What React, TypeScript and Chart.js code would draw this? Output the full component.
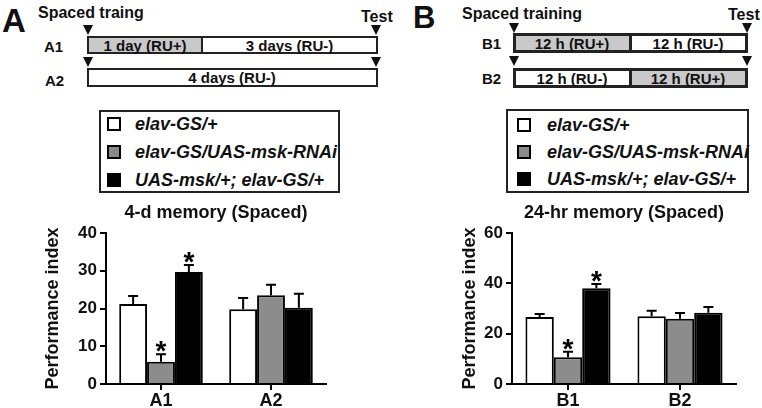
import React, { useEffect, useRef } from "react";
import { Chart, registerables } from "chart.js";
Chart.register(...registerables);

// ---- data ----
const categoriesA = ["A1", "A2"];
const categoriesB = ["B1", "B2"];
const seriesNames = ["elav-GS/+", "elav-GS/UAS-msk-RNAi", "UAS-msk/+; elav-GS/+"];
const seriesColors = ["#ffffff", "#8c8c8c", "#000000"];

const controlA = [21.2, 19.8];
const rnaiA = [5.9, 23.5];
const overA = [29.7, 20.2];
const controlAErr = [2.1, 3.0];
const rnaiAErr = [2.0, 2.8];
const overAErr = [1.8, 3.7];
const sigControlA = [false, false];
const sigRnaiA = [true, false];
const sigOverA = [true, false];

const controlB = [26.6, 26.9];
const rnaiB = [10.6, 25.9];
const overB = [38.0, 28.3];
const controlBErr = [1.2, 2.2];
const rnaiBErr = [2.2, 2.3];
const overBErr = [1.7, 2.3];
const sigControlB = [false, false];
const sigRnaiB = [true, false];
const sigOverB = [true, false];

const yTicksA = [0, 10, 20, 30, 40];
const yTicksB = [0, 20, 40, 60];

const FONT = "'Liberation Sans', Arial, Helvetica, sans-serif";

const errorBarPlugin = {
  id: "errbars",
  afterDatasetsDraw(chart: any) {
    const ctx = chart.ctx;
    const y = chart.scales.y;
    chart.data.datasets.forEach((ds: any, di: number) => {
      const meta = chart.getDatasetMeta(di);
      meta.data.forEach((bar: any, i: number) => {
        const v = ds.data[i];
        const top = y.getPixelForValue(v + ds.errors[i]);
        const base = y.getPixelForValue(v);
        ctx.save();
        ctx.strokeStyle = "#000";
        ctx.lineWidth = 2;
        ctx.beginPath();
        ctx.moveTo(bar.x, base);
        ctx.lineTo(bar.x, top);
        ctx.moveTo(bar.x - 5, top);
        ctx.lineTo(bar.x + 5, top);
        ctx.stroke();
        if (ds.sig[i]) {
          ctx.fillStyle = "#000";
          ctx.font = `bold 28px ${FONT}`;
          ctx.textAlign = "center";
          ctx.textBaseline = "alphabetic";
          ctx.fillText("*", bar.x, top + 6);
        }
        ctx.restore();
      });
    });
  },
};

function makeConfig(p: any) {
  const ds = [
    { data: p.s[0], errors: p.e[0], sig: p.g[0] },
    { data: p.s[1], errors: p.e[1], sig: p.g[1] },
    { data: p.s[2], errors: p.e[2], sig: p.g[2] },
  ].map((d, i) => ({
    label: seriesNames[i],
    ...d,
    backgroundColor: seriesColors[i],
    borderColor: "#000",
    borderWidth: 2,
    categoryPercentage: 0.76,
    barPercentage: 1,
  }));
  return {
    type: "bar",
    data: { labels: p.labels, datasets: ds },
    plugins: [errorBarPlugin],
    options: {
      animation: false,
      responsive: false,
      layout: { padding: { left: 0, right: p.padRight, top: 0, bottom: 0 } },
      plugins: {
        legend: { display: false },
        tooltip: { enabled: false },
        title: {
          display: true,
          text: p.title,
          fullSize: false,
          color: "#111",
          font: { family: FONT, size: 18, weight: "bold" },
          padding: { top: 2, bottom: 9.4 },
        },
      },
      scales: {
        x: {
          grid: { display: true, drawOnChartArea: false, drawTicks: true, tickLength: 6, color: "#000", lineWidth: 2, offset: false },
          border: { display: true, color: "#000", width: 2 },
          ticks: { color: "#111", font: { family: FONT, size: 18, weight: "bold" }, padding: 0 },
          afterFit: (s: any) => { s.height = 24; },
        },
        y: {
          min: p.ticks[0],
          max: p.ticks[p.ticks.length - 1],
          afterBuildTicks: (s: any) => { s.ticks = p.ticks.map((v: number) => ({ value: v })); },
          grid: { display: true, drawOnChartArea: false, drawTicks: true, tickLength: 6, color: "#000", lineWidth: 2 },
          border: { display: true, color: "#000", width: 2 },
          ticks: { color: "#111", font: { family: FONT, size: 17, weight: "bold" }, padding: 3 },
          title: {
            display: true,
            text: "Performance index",
            color: "#111",
            font: { family: FONT, size: 18, weight: "bold" },
            padding: { top: p.yTitlePad, bottom: 0 },
          },
          afterFit: (s: any) => { s.width = p.yWidth; },
        },
      },
    },
  };
}

function BarChart(props: any) {
  const ref = useRef<HTMLCanvasElement>(null);
  useEffect(() => {
    const c = new Chart(ref.current as any, makeConfig(props) as any);
    return () => c.destroy();
  }, []);
  return (
    <div style={{ position: "absolute", left: props.left, top: props.top, width: props.w, height: props.h }}>
      <canvas ref={ref} width={props.w} height={props.h} style={{ width: props.w, height: props.h, display: "block" }} />
    </div>
  );
}

function T(props: any) {
  const { x, y, size, children, align = "left", bold = true, italic = false } = props;
  const style: any = {
    position: "absolute",
    top: y - 0.8465 * size,
    fontSize: size,
    lineHeight: `${size}px`,
    fontWeight: bold ? 700 : 400,
    fontStyle: italic ? "italic" : "normal",
    whiteSpace: "nowrap",
    color: "#111",
    left: x,
  };
  if (align === "center") style.transform = "translateX(-50%)";
  return <div style={style}>{children}</div>;
}

function Tri({ x, tipY }: any) {
  return (
    <div
      style={{
        position: "absolute",
        left: x - 5,
        top: tipY - 10,
        width: 0,
        height: 0,
        borderLeft: "5px solid transparent",
        borderRight: "5px solid transparent",
        borderTop: "10px solid #111",
      }}
    />
  );
}

function Box({ l, t, w, h, fill, bw }: any) {
  return (
    <div
      style={{
        position: "absolute",
        left: l,
        top: t,
        width: w,
        height: h,
        boxSizing: "border-box",
        border: `${bw}px solid #222`,
        background: fill,
      }}
    />
  );
}

function Legend({ l, t, w, h, sq, tx, cy }: any) {
  return (
    <>
      <Box l={l} t={t} w={w} h={h} fill="#fff" bw={2} />
      {seriesNames.map((n, i) => (
        <React.Fragment key={n}>
          <div
            style={{
              position: "absolute",
              left: sq,
              top: cy[i] - 7,
              width: 14,
              height: 14,
              boxSizing: "border-box",
              border: "2px solid #000",
              background: seriesColors[i] === "#8c8c8c" ? "#8a8a8a" : seriesColors[i],
            }}
          />
          <T x={tx} y={cy[i] + 6.4} size={18} italic>
            {n}
          </T>
        </React.Fragment>
      ))}
    </>
  );
}

export default function App() {
  const gray = "#c9c9c9";
  return (
    <div
      style={{
        position: "fixed",
        left: 0,
        top: 0,
        width: 762,
        height: 408,
        background: "#fff",
        overflow: "hidden",
        fontFamily: FONT,
      }}
    >
      {/* Panel A timeline */}
      <T x={2} y={32} size={33}>A</T>
      <T x={38} y={19} size={16}>Spaced traing</T>
      <T x={361} y={23} size={16}>Test</T>
      <T x={44} y={51.4} size={15}>A1</T>
      <T x={45} y={85.4} size={15}>A2</T>
      <Box l={87} t={36} w={116} h={18} fill={gray} bw={2} />
      <Box l={201} t={36} w={177} h={18} fill="#fff" bw={2} />
      <T x={145} y={50.5} size={15} align="center">1 day (RU+)</T>
      <T x={289.5} y={50.5} size={15} align="center">3 days (RU-)</T>
      <Tri x={88} tipY={35} />
      <Tri x={376} tipY={35} />
      <Box l={87} t={68} w={291} h={19} fill="#fff" bw={2} />
      <T x={232} y={83} size={15} align="center">4 days (RU-)</T>
      <Tri x={88} tipY={67} />
      <Tri x={376} tipY={67} />

      {/* Panel B timeline */}
      <T x={413} y={28} size={31}>B</T>
      <T x={462} y={20} size={16}>Spaced training</T>
      <T x={728} y={20.5} size={16}>Test</T>
      <T x={482} y={48.4} size={15}>B1</T>
      <T x={482} y={83.4} size={15}>B2</T>
      <Box l={513} t={33} w={119} h={20} fill={gray} bw={3} />
      <Box l={629} t={33} w={119} h={20} fill="#fff" bw={3} />
      <T x={572} y={48.5} size={15} align="center">12 h (RU+)</T>
      <T x={688} y={48.5} size={15} align="center">12 h (RU-)</T>
      <Tri x={514} tipY={33} />
      <Tri x={747} tipY={33} />
      <Box l={513} t={68} w={119} h={20} fill="#fff" bw={3} />
      <Box l={629} t={68} w={119} h={20} fill={gray} bw={3} />
      <T x={572} y={83.5} size={15} align="center">12 h (RU-)</T>
      <T x={688} y={83.5} size={15} align="center">12 h (RU+)</T>
      <Tri x={514} tipY={66} />
      <Tri x={747} tipY={66} />

      {/* Legends */}
      <Legend l={99} t={110} w={241} h={83} sq={107} tx={135} cy={[124, 152, 180]} />
      <Legend l={506} t={109} w={243} h={84} sq={517} tx={547} cy={[125, 152, 179]} />

      {/* Charts */}
      <BarChart
        left={0}
        top={200}
        w={380}
        h={208}
        labels={categoriesA}
        s={[controlA, rnaiA, overA]}
        e={[controlAErr, rnaiAErr, overAErr]}
        g={[sigControlA, sigRnaiA, sigOverA]}
        ticks={yTicksA}
        title="4-d memory (Spaced)"
        padRight={54}
        yWidth={106}
        yTitlePad={42}
      />
      <BarChart
        left={380}
        top={200}
        w={382}
        h={208}
        labels={categoriesB}
        s={[controlB, rnaiB, overB]}
        e={[controlBErr, rnaiBErr, overBErr]}
        g={[sigControlB, sigRnaiB, sigOverB]}
        ticks={yTicksB}
        title="24-hr memory (Spaced)"
        padRight={26}
        yWidth={132}
        yTitlePad={79}
      />
    </div>
  );
}
